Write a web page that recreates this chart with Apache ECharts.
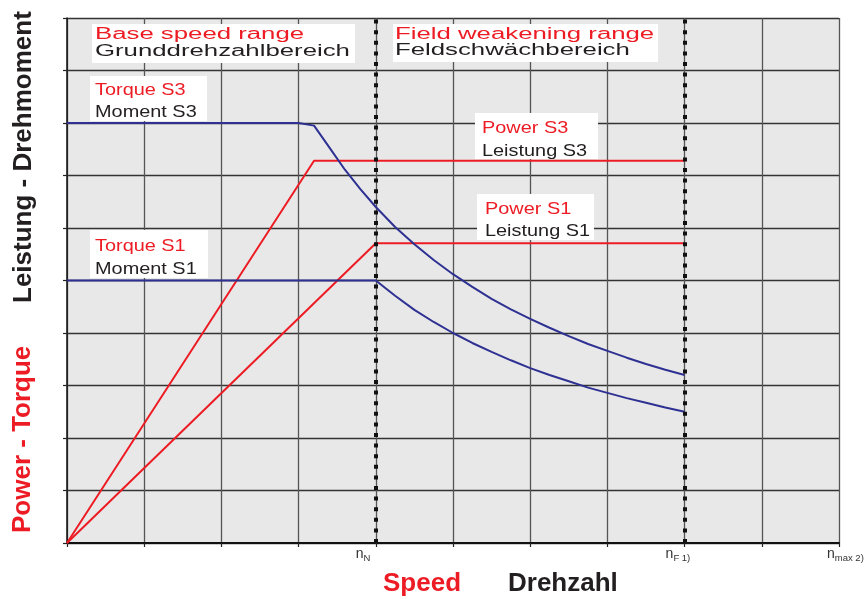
<!DOCTYPE html>
<html>
<head>
<meta charset="utf-8">
<script src="https://cdn.jsdelivr.net/npm/echarts@6/dist/echarts.min.js"></script>
<style>html,body{margin:0;padding:0;background:#fff}#c{width:864px;height:599px}</style>
</head>
<body>
<div id="c"></div>
<script>
// ---- data (x: speed in grid units, y: power / torque in grid units) ----
const torqueS3 = [[0,8],[3.0,8],[3.2,7.95],[3.4,7.53],[3.6,7.11],[3.8,6.74],[4,6.4],[4.25,6.02],[4.5,5.69],[4.75,5.39],[5,5.12],[5.25,4.88],[5.5,4.65],[5.75,4.45],[6,4.27],[6.25,4.1],[6.5,3.94],[6.75,3.79],[7,3.66],[7.25,3.53],[7.5,3.41],[7.75,3.3],[8,3.2]];
const torqueS1 = [[0,5],[4,5],[4.25,4.71],[4.5,4.44],[4.75,4.21],[5,4.0],[5.25,3.81],[5.5,3.64],[5.75,3.48],[6,3.33],[6.25,3.2],[6.5,3.08],[6.75,2.96],[7,2.86],[7.25,2.76],[7.5,2.67],[7.75,2.58],[8,2.5]];
const powerS3 = [[0,0],[3.2,7.28],[8,7.28]];
const powerS1 = [[0,0],[4,5.71],[8,5.71]];
const rangeLimits = [4, 8];           // n_N, n_F

const FONT = '"Liberation Sans", Arial, Helvetica, sans-serif';
const RED = '#ed1c24', BLACK = '#231f20', BLUE = '#2e3192';

function txt(x, baseline, text, fs, color, sx, bold) {
  return {type: 'text', x: x, y: baseline - 0.31 * fs, scaleX: sx || 1, z: 101,
    style: {text: text, font: (bold ? 'bold ' : '') + fs + 'px ' + FONT, fill: color, align: 'left', verticalAlign: 'middle'}};
}
function box(x, y, w, h, tx, red, b1, black, b2, fs, sx) {
  return [
    {type: 'rect', shape: {x: x, y: y, width: w, height: h}, style: {fill: '#fff'}, z: 100},
    txt(tx, b1, red, fs, RED, sx),
    txt(tx, b2, black, fs, BLACK, sx)
  ];
}

const graphics = [].concat(
  box(92, 24, 263, 39, 95, 'Base speed range', 40, 'Grunddrehzahlbereich', 56.5, 16, 1.61),
  box(393, 24, 265, 38, 395, 'Field weakening range', 39.5, 'Feldschwächbereich', 56, 16, 1.61),
  box(90, 76, 117, 45, 95, 'Torque S3', 95.5, 'Moment S3', 118, 17, 1.17),
  box(475, 113, 123, 46, 482, 'Power S3', 133.5, 'Leistung S3', 156.5, 17, 1.17),
  box(477, 194, 117, 46, 485, 'Power S1', 214.5, 'Leistung S1', 237, 17, 1.17),
  box(90, 230, 118, 48, 95, 'Torque S1', 252, 'Moment S1', 274.5, 17, 1.17),
  [
    {type: 'text', x: 23, y: 533, rotation: Math.PI / 2, z: 101,
      style: {text: 'Power - Torque', font: 'bold 26px ' + FONT, fill: RED, align: 'left', verticalAlign: 'middle'}},
    {type: 'text', x: 24, y: 303, rotation: Math.PI / 2, z: 101,
      style: {text: 'Leistung - Drehmoment', font: 'bold 26px ' + FONT, fill: BLACK, align: 'left', verticalAlign: 'middle'}},
    txt(383, 592, 'Speed', 26, RED, 1, true),
    txt(508, 592, 'Drehzahl', 26, BLACK, 1, true)
  ]
);

const chart = echarts.init(document.getElementById('c'), null, {renderer: 'canvas'});
chart.setOption({
  animation: false,
  backgroundColor: '#fff',
  grid: {left: 67, right: 25, top: 18, bottom: 56, show: true, backgroundColor: '#e8e8e8', borderWidth: 0,
    containLabel: false, outerBoundsMode: 'none'},
  xAxis: {
    type: 'value', min: 0, max: 10, interval: 1,
    axisLine: {show: true, onZero: false, lineStyle: {color: '#111', width: 2}},
    axisTick: {show: true, inside: false, length: 4, lineStyle: {color: '#222', width: 1.2}},
    splitLine: {show: true, lineStyle: {color: '#555', width: 1.3}},
    axisLabel: {
      show: true, margin: 4, color: '#333', align: 'center', verticalAlign: 'top',
      hideOverlap: false,
      formatter: function (v) {
        if (v === 4) return '{n|n}{s|N}{sp1|}';
        if (v === 8) return '{n|n}{s|F 1)}{sp2|}';
        if (v === 10) return '{sp3|}{n|n}{s|max 2)}';
        return '';
      },
      rich: {
        n: {fontSize: 14, fontFamily: FONT, color: '#333', verticalAlign: 'bottom'},
        s: {fontSize: 9.5, fontFamily: FONT, color: '#333', verticalAlign: 'bottom', padding: [0, 0, -2, 0]},
        sp1: {width: 25.3}, sp2: {width: 13.3}, sp3: {width: 12.8}
      }
    }
  },
  yAxis: {
    type: 'value', min: 0, max: 10, interval: 1,
    axisLine: {show: true, onZero: false, lineStyle: {color: '#111', width: 1.5}},
    axisTick: {show: true, inside: false, length: 4, lineStyle: {color: '#222', width: 1.2}},
    splitLine: {show: true, lineStyle: {color: '#333', width: 1.3}},
    axisLabel: {show: false}
  },
  graphic: graphics,
  series: [
    {type: 'line', name: 'Power S3', data: powerS3, showSymbol: false, z: 3,
      lineStyle: {color: RED, width: 2}},
    {type: 'line', name: 'Power S1', data: powerS1, showSymbol: false, z: 3,
      lineStyle: {color: RED, width: 2},
      markLine: {silent: true, symbol: 'none', label: {show: false},
        lineStyle: {color: '#111', width: 4, type: [4, 6.6]},
        data: rangeLimits.map(function (v) { return {xAxis: v}; })}},
    {type: 'line', name: 'Torque S3', data: torqueS3, showSymbol: false, z: 4,
      lineStyle: {color: BLUE, width: 2}},
    {type: 'line', name: 'Torque S1', data: torqueS1, showSymbol: false, z: 4,
      lineStyle: {color: BLUE, width: 2}}
  ]
});
</script>
</body>
</html>
